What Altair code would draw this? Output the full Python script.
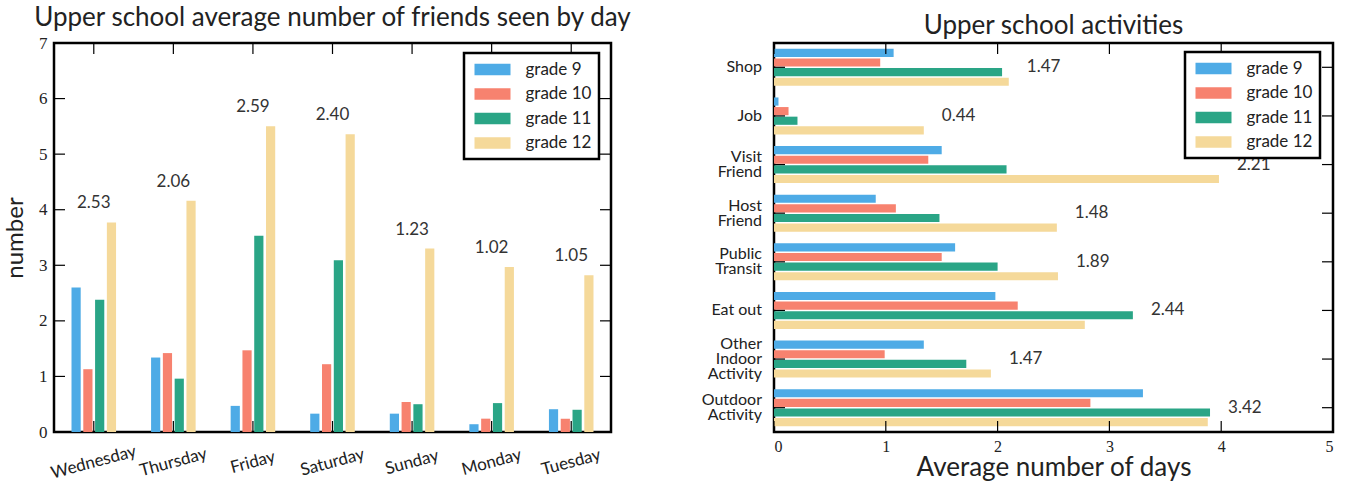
import altair as alt
import pandas as pd

# ---------------- data ----------------
days = ["Wednesday", "Thursday", "Friday", "Saturday", "Sunday", "Monday", "Tuesday"]
grades = ["grade 9", "grade 10", "grade 11", "grade 12"]
colors = ["#4eabe6", "#f7826f", "#2aa586", "#f5d99a"]

day_g9 = [2.60, 1.34, 0.47, 0.33, 0.33, 0.14, 0.41]
day_g10 = [1.13, 1.42, 1.47, 1.22, 0.54, 0.24, 0.24]
day_g11 = [2.38, 0.96, 3.53, 3.09, 0.50, 0.52, 0.40]
day_g12 = [3.77, 4.16, 5.50, 5.36, 3.30, 2.97, 2.82]
day_labels = ["2.53", "2.06", "2.59", "2.40", "1.23", "1.02", "1.05"]
day_yticks = [0, 1, 2, 3, 4, 5, 6, 7]

activities = ["Shop", "Job", "Visit\nFriend", "Host\nFriend", "Public\nTransit",
              "Eat out", "Other\nIndoor\nActivity", "Outdoor\nActivity"]
act_g9 = [1.07, 0.04, 1.50, 0.91, 1.62, 1.98, 1.34, 3.30]
act_g10 = [0.95, 0.13, 1.38, 1.09, 1.50, 2.18, 0.99, 2.83]
act_g11 = [2.04, 0.21, 2.08, 1.48, 2.00, 3.21, 1.72, 3.90]
act_g12 = [2.10, 1.34, 3.98, 2.53, 2.54, 2.78, 1.94, 3.88]
act_labels = ["1.47", "0.44", "2.21", "1.48", "1.89", "2.44", "1.47", "3.42"]
act_xticks = [0, 1, 2, 3, 4, 5]

SANS = "Lato"
SERIF = "Liberation Serif"
TXT = "#222222"

# ---------------- tables ----------------
def long_table(cats, series, key):
    rows = []
    for g, vals in zip(grades, series):
        for c, v in zip(cats, vals):
            rows.append({key: c, "grade": g, "value": v})
    return pd.DataFrame(rows)

df_day = long_table(days, [day_g9, day_g10, day_g11, day_g12], "day")
lab_day = pd.DataFrame({"day": days, "label": day_labels,
                        "value": [max(v) for v in zip(day_g9, day_g10, day_g11, day_g12)]})
yt_day = pd.DataFrame({"value": day_yticks})

df_act = long_table(activities, [act_g9, act_g10, act_g11, act_g12], "act")
lab_act = pd.DataFrame({"act": activities, "label": act_labels,
                        "nlines": [a.count("\n") + 1 for a in activities],
                        "value": [max(v) for v in zip(act_g9, act_g10, act_g11, act_g12)]})
xt_act = pd.DataFrame({"value": act_xticks})

W1, H1 = 557, 389
W2, H2 = 559, 389
TICK = 11
LH = 15


def build(mode):
    def legend(x, y):
        kw = dict(orient="none", legendX=x, legendY=y, title=None,
                  fillColor="white", strokeColor="black", padding=7.5,
                  labelFont=SANS, labelFontSize=17, labelColor=TXT,
                  symbolType="M-1,-0.65H3V0.65H-1Z", symbolSize=324,
                  symbolStrokeWidth=0, symbolOpacity=1, symbolOffset=3,
                  labelOffset=33, rowPadding=7.5)
        if mode == 0:
            kw["strokeWidth"] = 2.5
        return alt.Legend(**kw)

    rule = dict(color="black", strokeWidth=1.2)

    # ---------- left chart ----------
    xscale = alt.Scale(domain=days, paddingInner=0.44, paddingOuter=0.22)
    yscale1 = alt.Scale(domain=[0, 7], nice=False)
    xaxis1 = alt.Axis(title=None, labelAngle=-15, labelAlign="center",
                      labelBaseline="middle", labelPadding=30,
                      labelFont=SANS, labelFontSize=17, labelColor=TXT)
    yaxis1 = alt.Axis(values=day_yticks, title="number", titleFont=SANS,
                      titleFontSize=24, titleFontWeight="normal", titleColor=TXT,
                      titlePadding=11, labelFont=SERIF, labelFontSize=17,
                      labelColor=TXT, labelPadding=7)
    X1 = alt.X("day:N", sort=days, scale=xscale, axis=xaxis1)
    Y1 = alt.Y("value:Q", scale=yscale1, axis=yaxis1)
    color1 = alt.Color("grade:N", scale=alt.Scale(domain=grades, range=colors),
                       legend=legend(410, 10))
    bars1 = alt.Chart(df_day).mark_bar().encode(
        x=X1,
        xOffset=alt.XOffset("grade:N", sort=grades,
                            scale=alt.Scale(domain=grades, paddingInner=0.22, paddingOuter=0)),
        y=Y1,
        color=color1,
    )
    text1 = alt.Chart(lab_day).mark_text(font=SANS, fontSize=17, color="#333333",
                                         baseline="middle", dy=-19).encode(
        x=X1, y=Y1, text="label:N")
    yl1 = alt.Chart(yt_day).mark_rule(**rule).encode(
        y=Y1, x=alt.value(0), x2=alt.value(TICK))
    yr1 = alt.Chart(yt_day).mark_rule(**rule).encode(
        y=Y1, x=alt.value(W1 - TICK), x2=alt.value(W1))
    xb1 = alt.Chart(lab_day).mark_rule(**rule).encode(
        x=X1, y=alt.value(H1 - TICK), y2=alt.value(H1))
    xt1 = alt.Chart(lab_day).mark_rule(**rule).encode(
        x=X1, y=alt.value(0), y2=alt.value(TICK))
    left = alt.layer(bars1, text1, yl1, yr1, xb1, xt1).properties(
        width=W1, height=H1,
        title=alt.TitleParams("Upper school average number of friends seen by day",
                              font=SANS, fontSize=26, fontWeight="normal",
                              color=TXT, offset=3))

    # ---------- right chart ----------
    yscale = alt.Scale(domain=activities, paddingInner=0.24, paddingOuter=0.12)
    xscale2 = alt.Scale(domain=[0, 5], nice=False)
    yaxis2 = alt.Axis(title=None, labels=False)
    xaxis2 = alt.Axis(values=act_xticks, title="Average number of days",
                      titleFont=SANS, titleFontSize=26, titleFontWeight="normal",
                      titleColor=TXT, titlePadding=0, labelFont=SERIF,
                      labelFontSize=16, labelColor=TXT, labelPadding=6)
    Y2 = alt.Y("act:N", sort=activities, scale=yscale, axis=yaxis2)
    X2 = alt.X("value:Q", scale=xscale2, axis=xaxis2)
    color2 = alt.Color("grade:N", scale=alt.Scale(domain=grades, range=colors),
                       legend=legend(411, 9))
    bars2 = alt.Chart(df_act).mark_bar().encode(
        y=Y2,
        yOffset=alt.YOffset("grade:N", sort=grades,
                            scale=alt.Scale(domain=grades, paddingInner=0.15, paddingOuter=0)),
        x=X2,
        color=color2,
    )
    text2 = alt.Chart(lab_act).mark_text(font=SANS, fontSize=17, color="#333333",
                                         align="left", baseline="middle", dx=18).encode(
        y=Y2, x=X2, text="label:N")
    cat_layers = []
    for n in (1, 2, 3):
        cat_layers.append(
            alt.Chart(lab_act).transform_filter(alt.datum.nlines == n).mark_text(
                font=SANS, fontSize=16, color=TXT, align="right", baseline="middle",
                lineBreak="\n", lineHeight=LH, dy=-(n - 1) * LH / 2).encode(
                y=Y2, x=alt.value(-12), text="act:N"))
    xb2 = alt.Chart(xt_act).mark_rule(**rule).encode(
        x=X2, y=alt.value(H2 - TICK), y2=alt.value(H2))
    xt2 = alt.Chart(xt_act).mark_rule(**rule).encode(
        x=X2, y=alt.value(0), y2=alt.value(TICK))
    yl2 = alt.Chart(lab_act).mark_rule(**rule).encode(
        y=Y2, x=alt.value(0), x2=alt.value(TICK))
    yr2 = alt.Chart(lab_act).mark_rule(**rule).encode(
        y=Y2, x=alt.value(W2 - TICK), x2=alt.value(W2))
    right = alt.layer(bars2, text2, *cat_layers, xb2, xt2, yl2, yr2).properties(
        width=W2, height=H2,
        title=alt.TitleParams("Upper school activities", font=SANS, fontSize=26,
                              fontWeight="normal", color=TXT, offset=3))

    chart = alt.hconcat(left, right, spacing=66).resolve_scale(
        color="independent").resolve_legend(color="independent").properties(
        padding={"left": 2, "top": 3, "right": 0, "bottom": 0},
        background="white",
    ).configure_view(stroke="black", strokeWidth=2.5).configure_axis(
        domain=False, ticks=False, grid=False)
    if mode == 1:
        chart = chart.configure_legend(strokeWidth=2.5)
    return chart


for mode in (0, 1, 2):
    try:
        chart = build(mode)
        chart.save("out.html", embed_options={"renderer": "svg", "actions": False})
        break
    except Exception:
        continue
